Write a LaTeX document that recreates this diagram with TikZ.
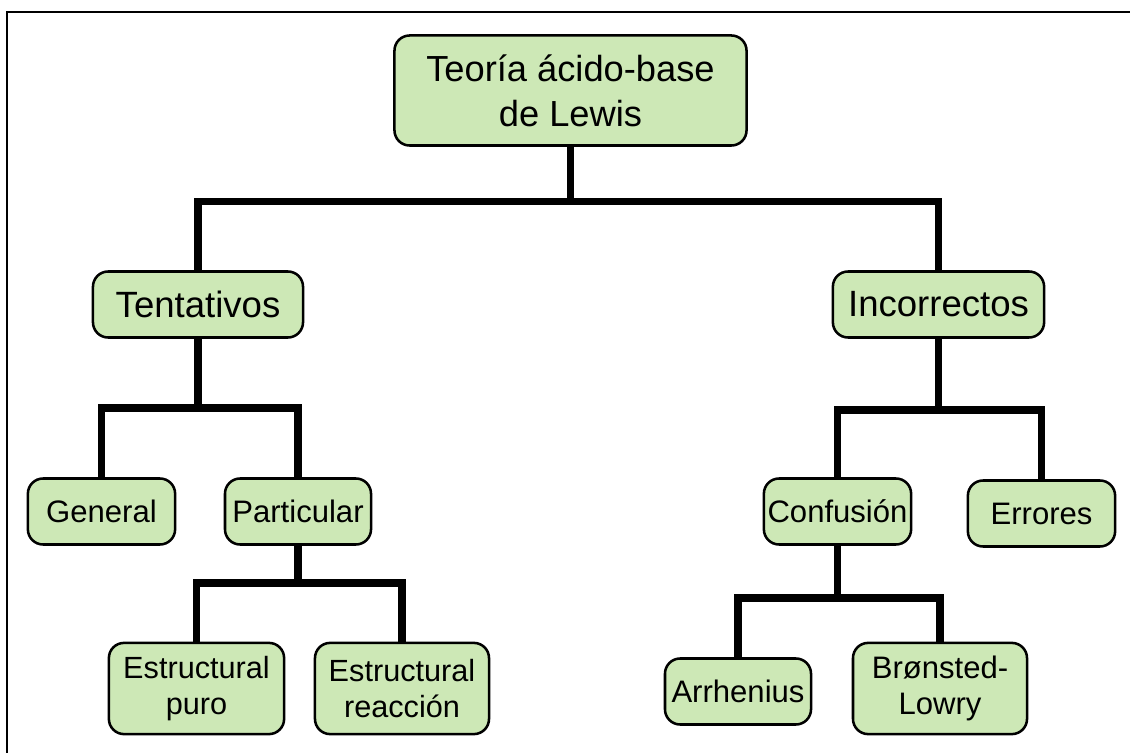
\documentclass[tikz,border=0pt]{standalone}
\usepackage{fontspec}
\setmainfont{Liberation Sans}
\definecolor{ConceptFill}{HTML}{CDE8B6}
% heights of the horizontal bars
\newcommand{\barroot}{201.5}
\newcommand{\bartent}{408}
\newcommand{\barincor}{410}
\newcommand{\barpart}{583}
\newcommand{\barconf}{598}
% text sizes
\newcommand{\toptext}{\fontsize{25.8}{32}\selectfont}
\newcommand{\midtext}{\fontsize{26}{30}\selectfont}
\newcommand{\lowtext}{\fontsize{22.1}{26}\selectfont}
\newcommand{\leaftext}{\fontsize{21.8}{26}\selectfont}

\begin{document}
\begin{tikzpicture}[x=0.025cm,y=-0.025cm,
    concept/.style={draw,line width=1.8pt,fill=ConceptFill,
      rounded corners=0.38cm,inner sep=0pt,align=center,
      minimum height=1.65cm},
    tall/.style={minimum height=2.28cm},
    branch/.style={line width=5pt},
    frame/.style={line width=2pt}]
    \useasboundingbox (0,0) rectangle (1130,753);
    % frame, only top and left edges
    \draw[frame] (7,753) -- (7,12) -- (1130,12);
    % root
    \node[concept,minimum width=8.8cm,minimum height=2.75cm,font=\toptext]
      (root) at (570.5,90.5) {Teoría ácido-base\\de Lewis};
    % first level
    \node[concept,minimum width=5.25cm,font=\midtext]
      (tent) at (198,304.5) {Tentativos};
    \node[concept,minimum width=5.28cm,font=\midtext]
      (incor) at (938.5,304.5) {Incorrectos};
    % second level
    \node[concept,minimum width=3.68cm,font=\lowtext]
      (general) at (101.5,511.5) {General};
    \node[concept,minimum width=3.65cm,font=\lowtext]
      (part) at (298,511.5) {Particular};
    \node[concept,minimum width=3.68cm,font=\lowtext]
      (conf) at (837.5,511.5) {Confusión};
    \node[concept,minimum width=3.68cm,font=\lowtext]
      (errores) at (1041.5,513.5) {Errores};
    % leaves
    \node[concept,tall,minimum width=4.38cm,font=\leaftext]
      (puro) at (196.5,688.5) {Estructural\\puro};
    \node[concept,tall,minimum width=4.35cm,font=\leaftext]
      (reac) at (402,688.5) {Estructural\\reacción};
    \node[concept,minimum width=3.65cm,font=\lowtext]
      (arrh) at (738,691.5) {Arrhenius};
    \node[concept,tall,minimum width=4.35cm,font=\lowtext]
      (bron) at (940,688.5) {Brønsted-\\Lowry};
    % branches
    \draw[branch] (root) -- (root |- 0,\barroot) -| (tent);
    \draw[branch] (root |- 0,\barroot) -| (incor);
    \draw[branch] (tent) -- (tent |- 0,\bartent) -| (general);
    \draw[branch] (tent |- 0,\bartent) -| (part);
    \draw[branch] (incor) -- (incor |- 0,\barincor) -| (conf);
    \draw[branch] (incor |- 0,\barincor) -| (errores);
    \draw[branch] (part) -- (part |- 0,\barpart) -| (puro);
    \draw[branch] (part |- 0,\barpart) -| (reac);
    \draw[branch] (conf) -- (conf |- 0,\barconf) -| (arrh);
    \draw[branch] (conf |- 0,\barconf) -| (bron);
\end{tikzpicture}
\end{document}
